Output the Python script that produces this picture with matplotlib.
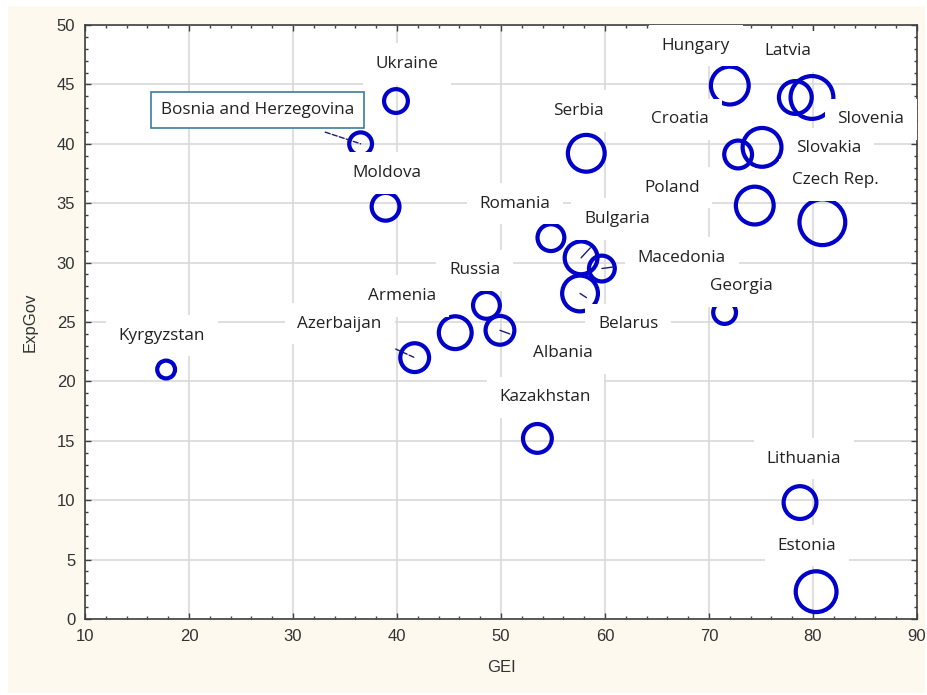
import matplotlib
matplotlib.use("Agg")
import matplotlib.pyplot as plt
from matplotlib.patches import Rectangle
import numpy as np

# data
countries = ["Kyrgyzstan", "Bosnia and Herzegovina", "Ukraine", "Moldova", "Azerbaijan",
             "Armenia", "Russia", "Albania", "Romania", "Bulgaria", "Macedonia", "Belarus",
             "Kazakhstan", "Serbia", "Hungary", "Latvia", "Slovenia", "Croatia", "Slovakia",
             "Poland", "Czech Rep.", "Georgia", "Lithuania", "Estonia"]
gei = [17.8, 36.5, 39.9, 38.9, 41.7, 45.6, 48.6, 49.9, 54.8, 57.7, 59.7, 57.6,
       53.5, 58.2, 72.0, 78.3, 79.9, 72.8, 75.1, 74.4, 80.9, 71.5, 78.75, 80.3]
expgov = [21.0, 40.0, 43.6, 34.7, 22.0, 24.1, 26.4, 24.3, 32.1, 30.4, 29.5, 27.4,
          15.2, 39.2, 44.9, 43.9, 43.9, 39.1, 39.7, 34.8, 33.4, 25.8, 9.8, 2.3]
# bubble value (drawn as circle diameter)
bubble = [22, 27, 28, 32, 33, 37, 31, 33, 31, 37, 30, 40,
          33, 41, 42, 37, 47, 32, 43, 42, 50, 27, 37, 45]

# label offsets from the point, in pixels (right, down)
label_off = {
    "Kyrgyzstan": (-4, -34), "Bosnia and Herzegovina": (-103, -34), "Ukraine": (11, -37),
    "Moldova": (1, -34), "Azerbaijan": (-75, -34), "Armenia": (-53, -37),
    "Russia": (-12, -35), "Albania": (63, 23), "Romania": (-36, -34),
    "Bulgaria": (36, -39), "Macedonia": (80, -11), "Belarus": (48, 31),
    "Kazakhstan": (8, -41), "Serbia": (-8, -42), "Hungary": (-34, -40),
    "Latvia": (-8, -46), "Slovenia": (59, 22), "Croatia": (-58, -35),
    "Slovakia": (67, 1), "Poland": (-83, -18), "Czech Rep.": (13, -42),
    "Georgia": (17, -26), "Lithuania": (4, -44), "Estonia": (-9, -46),
}
leaders = {"Bosnia and Herzegovina": "--", "Azerbaijan": "--", "Albania": "-",
           "Bulgaria": "-", "Macedonia": "-", "Belarus": "-"}

dpi = 100
px = 72.0 / dpi
fig = plt.figure(figsize=(9.27, 6.95), dpi=dpi, facecolor="white")
fig.patches.append(Rectangle((8 / 927, 2 / 695), 917 / 927, 687 / 695,
                             transform=fig.transFigure, facecolor="#fdf9ee",
                             edgecolor="none", zorder=-10))
ax = fig.add_axes([85 / 927, 1 - 619 / 695, 832 / 927, 594 / 695])
ax.set_facecolor("white")

blue = "#0000c8"
lw = 4.2 * px
sizes = [(d * px - lw) ** 2 for d in bubble]
ax.scatter(gei, expgov, s=sizes, facecolors="none", edgecolors=blue,
           linewidths=lw, zorder=3, clip_on=False)

for name, x, y in zip(countries, gei, expgov):
    dx, dy = label_off[name]
    box = dict(boxstyle="square,pad=0.75", facecolor="white", edgecolor="none")
    if name == "Bosnia and Herzegovina":
        box = dict(boxstyle="square,pad=0.6", facecolor="white", edgecolor="#3d7c9c", linewidth=1.2)
    arrow = None
    if name in leaders:
        arrow = dict(arrowstyle="-", color="#1a1a7a", lw=1, linestyle=leaders[name],
                     shrinkA=8, shrinkB=0)
    ax.annotate(name, (x, y), xytext=(dx * px, -dy * px), textcoords="offset points",
                ha="center", va="center", fontsize=12.3, family="Open Sans",
                color="#222222", bbox=box, arrowprops=arrow, zorder=6,
                annotation_clip=False)

ax.set_xlim(10, 90)
ax.set_ylim(0, 50)
ax.set_xticks(np.arange(10, 91, 10))
ax.set_yticks(np.arange(0, 51, 5))
ax.set_xticks(np.arange(10, 91, 2), minor=True)
ax.set_yticks(np.arange(0, 51, 1), minor=True)
ax.grid(True, which="major", color="#d9d9d9", lw=1.2, zorder=0)
ax.set_axisbelow(True)
ax.tick_params(which="both", direction="in", top=True, right=True, colors="#404040",
               labelcolor="#333333", labelsize=12, pad=7)
ax.tick_params(which="major", length=4, width=1)
ax.tick_params(which="minor", length=2.5, width=1)
for lab in ax.get_xticklabels() + ax.get_yticklabels():
    lab.set_family("Liberation Sans")
for sp in ax.spines.values():
    sp.set_color("#404040")
    sp.set_linewidth(1.2)

ax.set_xlabel("GEI", fontsize=12, family="Liberation Sans", color="#333333", labelpad=12)
ax.set_ylabel("ExpGov", fontsize=12, family="Liberation Sans", color="#333333", labelpad=14)

fig.savefig("out.png", dpi=dpi, facecolor=fig.get_facecolor())
